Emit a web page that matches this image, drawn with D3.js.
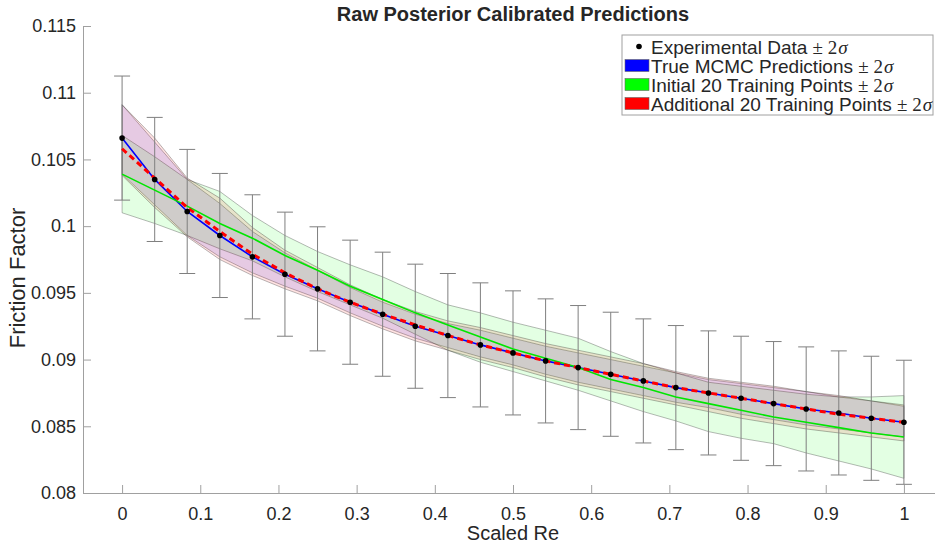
<!DOCTYPE html>
<html>
<head>
<meta charset="utf-8">
<script src="https://cdn.jsdelivr.net/npm/d3@7"></script>
<style>
  body { margin: 0; background: #fff; }
  svg { display: block; }
  text { font-family: "Liberation Sans", Arial, Helvetica, sans-serif; fill: #262626; }
</style>
</head>
<body>
<div id="chart"></div>
<script>
// scaled Reynolds number at the 25 experimental points
const scaledRe = [0, 0.0417, 0.0833, 0.125, 0.1667, 0.2083, 0.25, 0.2917, 0.3333, 0.375,
    0.4167, 0.4583, 0.5, 0.5417, 0.5833, 0.625, 0.6667, 0.7083, 0.75, 0.7917,
    0.8333, 0.875, 0.9167, 0.9583, 1];

// experimental data and its 2 sigma
const expData = [0.1066, 0.1035, 0.1011, 0.0993, 0.0977, 0.0964, 0.0953, 0.0943, 0.0934, 0.0925,
    0.0918, 0.0911, 0.0905, 0.0899, 0.0894, 0.0889, 0.0884, 0.0879, 0.0875, 0.0871,
    0.0867, 0.0863, 0.0860, 0.0856, 0.0853];
const expTwoSigma = 0.00465;

// true MCMC predictions
const mcmcMean = [0.1066, 0.1035, 0.1011, 0.0993, 0.0977, 0.0964, 0.0953, 0.0943, 0.0934, 0.0925,
    0.0918, 0.0911, 0.0905, 0.0899, 0.0894, 0.0889, 0.0884, 0.0879, 0.0875, 0.0871,
    0.0867, 0.0863, 0.0860, 0.0856, 0.0853];
const mcmcUpper = [0.1091, 0.1063, 0.1035, 0.1017, 0.0996, 0.0980, 0.0967, 0.0954, 0.0943, 0.0934,
    0.0927, 0.0922, 0.0916, 0.0910, 0.0905, 0.0900, 0.0895, 0.0890, 0.0885, 0.0882,
    0.0879, 0.0876, 0.0872, 0.0869, 0.0865];
const mcmcLower = [0.1039, 0.1016, 0.0993, 0.0977, 0.0965, 0.0955, 0.0946, 0.0935, 0.0925, 0.0916,
    0.0909, 0.0902, 0.0896, 0.0889, 0.0883, 0.0878, 0.0873, 0.0868, 0.0864, 0.0859,
    0.0855, 0.0851, 0.0848, 0.0845, 0.0842];

// initial 20 training points
const initMean = [0.1039, 0.1027, 0.1015, 0.1002, 0.0991, 0.0978, 0.0967, 0.0955, 0.0945, 0.0935,
    0.0926, 0.0917, 0.0908, 0.0901, 0.0894, 0.0885, 0.0879, 0.0872, 0.0867, 0.0862,
    0.0857, 0.0853, 0.0849, 0.0845, 0.0842];
const initUpper = [0.1068, 0.1052, 0.1035, 0.1026, 0.1008, 0.0993, 0.0981, 0.0971, 0.0962, 0.0951,
    0.0941, 0.0935, 0.0928, 0.0922, 0.0916, 0.0906, 0.0897, 0.0890, 0.0883, 0.0880,
    0.0877, 0.0874, 0.0872, 0.0872, 0.0873];
const initLower = [0.1010, 0.1002, 0.0993, 0.0983, 0.0974, 0.0962, 0.0951, 0.0941, 0.0931, 0.0919,
    0.0907, 0.0898, 0.0891, 0.0884, 0.0877, 0.0869, 0.0861, 0.0854, 0.0846, 0.0841,
    0.0837, 0.0830, 0.0824, 0.0818, 0.0811];

// additional 20 training points
const addMean = [0.1058, 0.1036, 0.1014, 0.0996, 0.0979, 0.0965, 0.0953, 0.0943, 0.0934, 0.0926,
    0.0918, 0.0911, 0.0905, 0.0899, 0.0894, 0.0889, 0.0884, 0.0879, 0.0875, 0.0871,
    0.0867, 0.0863, 0.0859, 0.0856, 0.0853];
const addUpper = [0.1091, 0.1066, 0.1036, 0.1021, 0.0999, 0.0982, 0.0969, 0.0956, 0.0945, 0.0936,
    0.0929, 0.0924, 0.0918, 0.0912, 0.0907, 0.0902, 0.0897, 0.0891, 0.0886, 0.0883,
    0.0880, 0.0876, 0.0873, 0.0869, 0.0866];
const addLower = [0.1038, 0.1014, 0.0992, 0.0975, 0.0963, 0.0953, 0.0944, 0.0933, 0.0923, 0.0914,
    0.0907, 0.0900, 0.0894, 0.0887, 0.0881, 0.0876, 0.0871, 0.0866, 0.0861, 0.0856,
    0.0852, 0.0848, 0.0845, 0.0842, 0.0839];

const xTicks = [0, 0.1, 0.2, 0.3, 0.4, 0.5, 0.6, 0.7, 0.8, 0.9, 1];
const yTicks = [0.08, 0.085, 0.09, 0.095, 0.1, 0.105, 0.11, 0.115];

const legendLabels = ["Experimental Data", "True MCMC Predictions", "Initial 20 Training Points", "Additional 20 Training Points"];

const margin = { top: 26, right: -8, bottom: 55, left: 83 },
    width = 935 - margin.left - margin.right,
    height = 548 - margin.top - margin.bottom;

const root = d3.select("#chart")
    .append("svg")
    .attr("width", 935)
    .attr("height", 548);

const svg = root.append("g")
    .attr("transform", `translate(${margin.left}, ${margin.top})`);

const x = d3.scaleLinear()
    .domain([-0.05, 1.05])
    .range([0, width]);

const y = d3.scaleLinear()
    .domain([0.08, 0.115])
    .range([height, 0]);

// bands: MCMC, initial, additional
const bands = [
    { color: "#0000ff", lo: mcmcLower, hi: mcmcUpper },
    { color: "#00ff00", lo: initLower, hi: initUpper },
    { color: "#ff0000", lo: addLower, hi: addUpper }
];

const area = d3.area()
    .x(d => x(d.x))
    .y0(d => y(d.lo))
    .y1(d => y(d.hi));

bands.forEach(b => {
    const pts = scaledRe.map((v, i) => ({ x: v, lo: b.lo[i], hi: b.hi[i] }));
    svg.append("path")
        .datum(pts)
        .attr("d", area)
        .attr("fill", b.color)
        .attr("fill-opacity", 0.11)
        .attr("stroke", "#000")
        .attr("stroke-opacity", 0.4)
        .attr("stroke-width", 0.7);
});

// error bars
const errs = svg.append("g")
    .attr("stroke", "#7f7f7f")
    .attr("stroke-width", 1);
scaledRe.forEach((v, i) => {
    const cx = x(v);
    const top = y(expData[i] + expTwoSigma), bot = y(expData[i] - expTwoSigma);
    errs.append("line").attr("x1", cx).attr("x2", cx).attr("y1", top).attr("y2", bot);
    errs.append("line").attr("x1", cx - 8).attr("x2", cx + 8).attr("y1", top).attr("y2", top);
    errs.append("line").attr("x1", cx - 8).attr("x2", cx + 8).attr("y1", bot).attr("y2", bot);
});

const line = d3.line()
    .x(d => x(d[0]))
    .y(d => y(d[1]));

svg.append("path")
    .datum(d3.zip(scaledRe, mcmcMean))
    .attr("d", line)
    .attr("fill", "none")
    .attr("stroke", "#0000ff")
    .attr("stroke-width", 1.6);

svg.append("path")
    .datum(d3.zip(scaledRe, initMean))
    .attr("d", line)
    .attr("fill", "none")
    .attr("stroke", "#00e600")
    .attr("stroke-width", 1.6);

svg.append("path")
    .datum(d3.zip(scaledRe, addMean))
    .attr("d", line)
    .attr("fill", "none")
    .attr("stroke", "#ff0000")
    .attr("stroke-width", 3)
    .attr("stroke-dasharray", "6,4");

svg.selectAll("circle.exp")
    .data(d3.zip(scaledRe, expData))
    .enter()
    .append("circle")
    .attr("class", "exp")
    .attr("cx", d => x(d[0]))
    .attr("cy", d => y(d[1]))
    .attr("r", 2.8)
    .attr("fill", "#000");

// Add X axis
const xAxis = svg.append("g")
    .attr("transform", `translate(0, ${height})`)
    .call(d3.axisBottom(x).tickValues(xTicks).tickSizeInner(-8).tickSizeOuter(0).tickPadding(14)
        .tickFormat(d => d3.format("~g")(d)));

// Add Y axis
const yAxis = svg.append("g")
    .call(d3.axisLeft(y).tickValues(yTicks).tickSizeInner(-8).tickSizeOuter(0).tickPadding(7)
        .tickFormat(d => d3.format("~g")(d)));

[xAxis, yAxis].forEach(a => {
    a.select(".domain").attr("stroke", "#a0a0a0");
    a.selectAll(".tick line").attr("stroke", "#a0a0a0");
    a.selectAll(".tick text").attr("font-size", 18).attr("fill", "#262626")
        .attr("font-family", "Liberation Sans, Arial, sans-serif");
});

// X axis label
svg.append("text")
    .attr("text-anchor", "middle")
    .attr("x", x(0.5))
    .attr("y", height + 47)
    .attr("font-size", 20)
    .text("Scaled Re");

// Y axis label
svg.append("text")
    .attr("text-anchor", "middle")
    .attr("transform", "rotate(-90)")
    .attr("x", -252)
    .attr("y", -58)
    .attr("font-size", 22)
    .text("Friction Factor");

// title
root.append("text")
    .attr("text-anchor", "middle")
    .attr("x", 513)
    .attr("y", 21)
    .attr("font-size", 20)
    .attr("font-weight", "bold")
    .attr("fill", "#000")
    .text("Raw Posterior Calibrated Predictions");

// legend
const lg = root.append("g").attr("transform", "translate(622, 35)");
lg.append("rect")
    .attr("width", 311).attr("height", 80)
    .attr("fill", "#fff").attr("stroke", "#a0a0a0").attr("stroke-width", 1);

const legendSwatch = [null, "#0000ff", "#00ff00", "#ff0000"];
legendLabels.forEach((lab, i) => {
    const cy = 11.5 + i * 19;
    if (i === 0) {
        lg.append("circle").attr("cx", 17).attr("cy", cy).attr("r", 2.8).attr("fill", "#000");
    } else {
        lg.append("rect").attr("x", 3).attr("y", cy - 6).attr("width", 24).attr("height", 12)
            .attr("fill", legendSwatch[i]).attr("stroke", "#666").attr("stroke-width", 0.6);
    }
    const t = lg.append("text")
        .attr("x", 29).attr("y", cy + 7)
        .attr("font-size", 19)
        .attr("fill", "#000");
    t.append("tspan").text(lab + " ");
    t.append("tspan").attr("font-family", "Liberation Serif, serif").text("± 2");
    t.append("tspan").attr("font-family", "Liberation Serif, serif")
        .attr("font-style", "italic").attr("dx", 1).text("σ");
});
</script>
</body>
</html>
